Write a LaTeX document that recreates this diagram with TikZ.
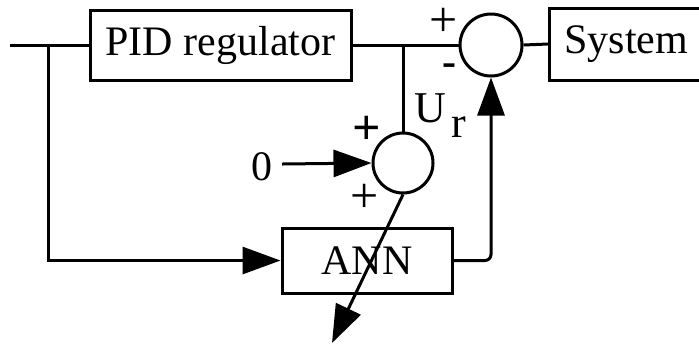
\documentclass[tikz,border=0pt]{standalone}
\usepackage{fontspec}
\setmainfont{Liberation Serif}
\usetikzlibrary{arrows.meta}

\tikzset{
  block/.style={draw, line width=1.5pt, inner sep=0pt, font=\fontsize{21}{25}\selectfont},
  sumnode/.style={circle, draw, line width=1.5pt, inner sep=0pt, minimum size=30pt},
  sign/.style={inner sep=0pt, font=\fontsize{25}{27}\selectfont},
  wire/.style={line width=1.5pt},
}

\begin{document}
\begin{tikzpicture}[x=0.5pt, y=-0.5pt, >={Triangle[length=19pt,width=13.5pt]}]
    \clip (0,0) rectangle (699,345);

    % blocks
    \node[block, minimum width=130.5pt, minimum height=35pt] (pid) at (220.5,45) {PID regulator};
    \node[block, minimum height=36pt, anchor=west, inner xsep=7.5pt] (sys) at (548,44) {System\hspace{20pt}};
    \node[block, minimum width=85pt, minimum height=32.5pt] (ann) at (367,260.5) {ANN};

    % summing points
    \node[sumnode, minimum size=31pt] (sumA) at (491,45) {};
    \node[sumnode] (sumB) at (403,163) {};

    % signs and labels
    \node[sign] (pA) at (444,22) {+};
    \node[sign, font=\fontsize{21}{22}\selectfont\bfseries] (mA) at (449,70) {-};
    \node[sign, font=\fontsize{25}{27}\selectfont\bfseries] (pB) at (367,130) {+};
    \node[sign] (pC) at (365,198) {+};
    \node[inner sep=0pt, font=\fontsize{22}{25}\selectfont, anchor=base west] (ur) at (414,122) {U\hspace{2.5pt}\raisebox{-7.5pt}{r}};
    \node[inner sep=0pt, font=\fontsize{21}{25}\selectfont] (zero) at (262,167) {0};

    % connection points
    \coordinate (in) at (10,45);
    \coordinate (br) at (48,45);
    \coordinate (tap) at (403,45);
    \coordinate (zin) at (282,164);
    \coordinate (out) at (332,343);

    % wires
    \draw[wire] (in) -- (pid.west);
    \draw[wire, ->] (br) |- (ann.west);
    \draw[wire] (pid.east) -- (sumA.west);
    \draw[wire] (sumA.east) -- (sys.west);
    \draw[wire] (tap) -- (sumB.north);
    \draw[wire, ->] (zin) -- (sumB.west);
    \draw[wire, ->, rounded corners=3pt] (ann.east) -| (sumA.south);
    \draw[wire, ->] (sumB.south) -- (out);
\end{tikzpicture}
\end{document}
